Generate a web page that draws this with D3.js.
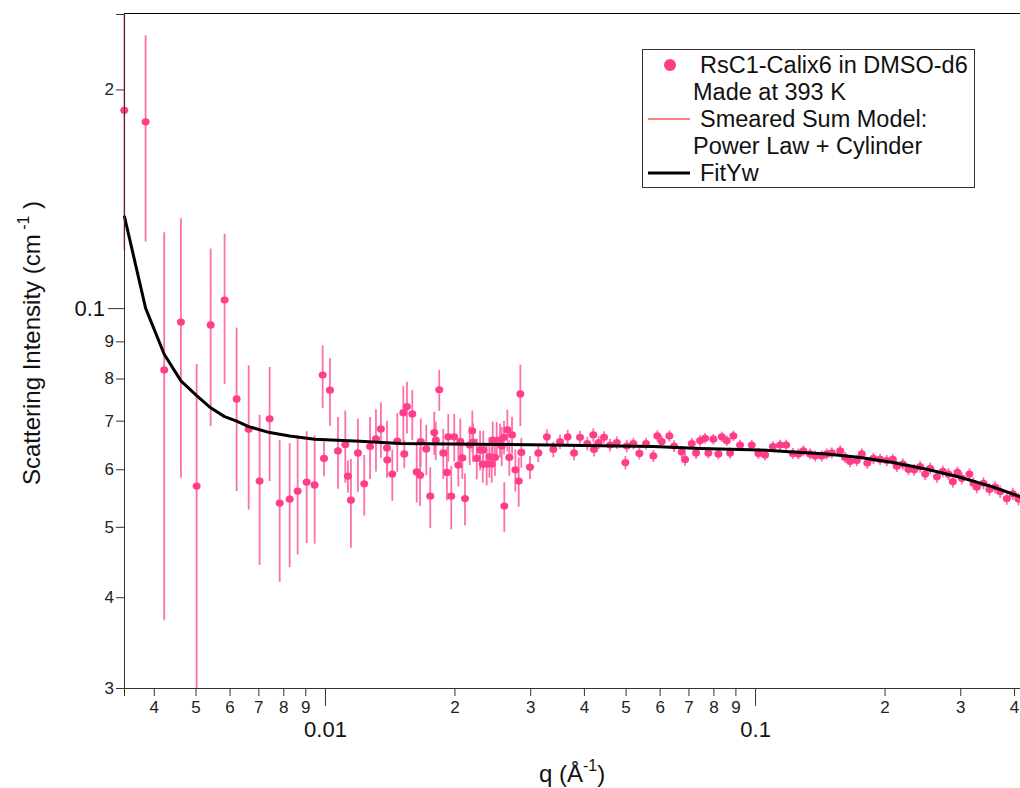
<!DOCTYPE html>
<html>
<head>
<meta charset="utf-8">
<script src="https://cdn.jsdelivr.net/npm/d3@7"></script>
<style>
  body { margin: 0; background: #fff; }
  svg { display: block; font-family: "Liberation Sans", Arial, sans-serif; }
</style>
</head>
<body>
<svg id="chart" width="1020" height="788"></svg>
<script>
// measured SANS data: q (1/A), intensity (1/cm), error
const qData = [0.003415, 0.003828, 0.004229, 0.004625, 0.005031, 0.005423, 0.005843, 0.006232, 0.006647, 0.007047,
  0.007437, 0.007847, 0.008278, 0.008639, 0.009067, 0.009463, 0.009878, 0.009947, 0.01027, 0.01072,
  0.01115, 0.01131, 0.01149, 0.01193, 0.01234, 0.01273, 0.01314, 0.01349, 0.01394, 0.01396,
  0.01434, 0.01473, 0.01521, 0.01529, 0.01551, 0.01596, 0.01634, 0.01664, 0.0167, 0.0172,
  0.01757, 0.01795, 0.0181, 0.01844, 0.01884, 0.01921, 0.01935, 0.01966, 0.01998, 0.02042,
  0.02064, 0.02086, 0.02116, 0.0217, 0.02201, 0.0221, 0.02254, 0.02294, 0.02327, 0.02334,
  0.02377, 0.02411, 0.02442, 0.02455, 0.02485, 0.02508, 0.02553, 0.02576, 0.02608, 0.02612,
  0.02655, 0.02683, 0.02722, 0.02771, 0.02822, 0.02846, 0.02861,
  0.02997, 0.03133, 0.0328, 0.03396, 0.0352, 0.03667, 0.03794, 0.03917, 0.04074, 0.04207,
  0.04222, 0.0433, 0.04455, 0.04601, 0.04769, 0.04994, 0.05031, 0.05212, 0.05382, 0.05578,
  0.05801, 0.05927, 0.06067, 0.0632, 0.06481, 0.06753, 0.06874, 0.07126, 0.07292, 0.0745,
  0.07651, 0.07788, 0.07998, 0.08216, 0.08368, 0.08594, 0.08748, 0.08903, 0.09229, 0.09824,
  0.1018, 0.1055, 0.11, 0.1143, 0.1181, 0.1224, 0.1261, 0.1295, 0.1342, 0.1379,
  0.1429, 0.1468, 0.1508, 0.1577, 0.1619, 0.1663, 0.1724, 0.1771, 0.1824, 0.1884,
  0.1953, 0.2024, 0.209, 0.2136, 0.2206, 0.2273, 0.2344, 0.242, 0.2486, 0.2553,
  0.2647, 0.2733, 0.2816, 0.2883, 0.2955, 0.3025, 0.3151, 0.3219, 0.3278, 0.3396,
  0.3507, 0.3615, 0.3714, 0.3849, 0.3975, 0.4096];

const iData = [0.1872, 0.1805, 0.0822, 0.0957, 0.0569, 0.0948, 0.1026, 0.075, 0.0681, 0.0578,
  0.0704, 0.0539, 0.0546, 0.056, 0.0576, 0.0571, 0.0809, 0.0621, 0.0771, 0.0636,
  0.0649, 0.0587, 0.0544, 0.0632, 0.0573, 0.0645, 0.0661, 0.0682, 0.0642, 0.0618,
  0.0591, 0.0656, 0.0718, 0.063, 0.0732, 0.0715, 0.0595, 0.0589, 0.0655, 0.064,
  0.0551, 0.0674, 0.0658, 0.0772, 0.0632, 0.0594, 0.0665, 0.0551, 0.0665, 0.0608,
  0.0655, 0.0622, 0.0547, 0.0648, 0.0678, 0.0654, 0.0621, 0.0638, 0.061, 0.0638,
  0.061, 0.0624, 0.061, 0.0658, 0.0623, 0.0657, 0.0658, 0.0646, 0.0664, 0.0534,
  0.068, 0.0623, 0.0669, 0.0599, 0.0578, 0.0762, 0.0633,
  0.0604, 0.0632, 0.0665, 0.0639, 0.0655, 0.0665, 0.0632, 0.0664, 0.0651, 0.0669,
  0.0639, 0.0653, 0.0664, 0.0648, 0.0653, 0.0613, 0.0646, 0.0651, 0.0631, 0.0651,
  0.0626, 0.0667, 0.0655, 0.0667, 0.0646, 0.0634, 0.0619, 0.0651, 0.0632, 0.0657,
  0.0662, 0.0632, 0.066, 0.063, 0.0665, 0.0657, 0.0632, 0.0667, 0.0648, 0.0648,
  0.0631, 0.0628, 0.0645, 0.0648, 0.0648, 0.0631, 0.063, 0.0636, 0.063, 0.0626,
  0.0626, 0.063, 0.0632, 0.0636, 0.0623, 0.0615, 0.0617, 0.063, 0.0612, 0.0621,
  0.0619, 0.0617, 0.0619, 0.0606, 0.061, 0.06, 0.0599, 0.0605, 0.0591, 0.0602,
  0.0586, 0.0596, 0.0591, 0.0577, 0.0594, 0.0583, 0.0591, 0.0574, 0.0567, 0.0574,
  0.0563, 0.0567, 0.0559, 0.0547, 0.0555, 0.0546];

const errData = [0.067, 0.057, 0.045, 0.0373, 0.0269, 0.026, 0.024, 0.019, 0.0153, 0.0135,
  0.0126, 0.0119, 0.0106, 0.0102, 0.0101, 0.0097, 0.008, 0.0034, 0.0082, 0.0072,
  0.0074, 0.003, 0.0076, 0.0073, 0.0055, 0.0063, 0.0065, 0.006, 0.0058, 0.003,
  0.0048, 0.0061, 0.0063, 0.0028, 0.006, 0.0057, 0.0055, 0.0055, 0.005, 0.0051,
  0.0053, 0.0046, 0.004, 0.005, 0.005, 0.005, 0.005, 0.0055, 0.005, 0.004,
  0.005, 0.004, 0.0045, 0.004, 0.0045, 0.004, 0.004, 0.004, 0.0035, 0.004,
  0.004, 0.004, 0.0035, 0.004, 0.0035, 0.004, 0.0035, 0.004, 0.0035, 0.0042,
  0.0045, 0.0035, 0.004, 0.004, 0.0045, 0.0074, 0.003,
  0.0022, 0.0018, 0.0016, 0.0016, 0.0015, 0.0015, 0.0015, 0.0014, 0.0014, 0.0014,
  0.0014, 0.0013, 0.0013, 0.0013, 0.0013, 0.0013, 0.0013, 0.0012, 0.0012, 0.0012,
  0.0012, 0.0012, 0.0012, 0.0012, 0.0012, 0.0012, 0.0012, 0.0012, 0.0012, 0.0012,
  0.0011, 0.0011, 0.0011, 0.0011, 0.0011, 0.0011, 0.0011, 0.0011, 0.0011, 0.0011,
  0.0011, 0.0011, 0.0011, 0.0011, 0.0011, 0.0011, 0.0011, 0.0011, 0.0011, 0.0011,
  0.0011, 0.0011, 0.0011, 0.0011, 0.0011, 0.0011, 0.0011, 0.0011, 0.0011, 0.0011,
  0.0011, 0.0011, 0.0011, 0.0011, 0.0011, 0.0011, 0.0011, 0.0011, 0.0011, 0.0011,
  0.0011, 0.0011, 0.0011, 0.0011, 0.0011, 0.0011, 0.0011, 0.0011, 0.0011, 0.0011,
  0.0011, 0.0011, 0.0011, 0.0011, 0.0011, 0.0011];

// fit curves
const fitQ = [0.003415, 0.003828, 0.004229, 0.004625, 0.005031, 0.005423, 0.005843, 0.006232, 0.006647, 0.007437,
  0.008278, 0.009463, 0.01206, 0.01494, 0.02553, 0.03337, 0.05801, 0.0745, 0.1027, 0.1226,
  0.1468, 0.1755, 0.2094, 0.2509, 0.2998, 0.3583, 0.4134];
const fitI = [0.134, 0.1, 0.0864, 0.0794, 0.0758, 0.0729, 0.0709, 0.0699, 0.0687, 0.0674,
  0.0667, 0.066, 0.0656, 0.0651, 0.0649, 0.0648, 0.0645, 0.0641, 0.0638, 0.0634,
  0.063, 0.0623, 0.0613, 0.06, 0.0585, 0.0567, 0.055];

const xMinor = [0.004, 0.005, 0.006, 0.007, 0.008, 0.009, 0.02, 0.03, 0.04, 0.05, 0.06, 0.07, 0.08, 0.09, 0.2, 0.3, 0.4];
const xMajor = [0.01, 0.1];
const yMinor = [0.03, 0.04, 0.05, 0.06, 0.07, 0.08, 0.09, 0.2];
const yMajor = [0.1];

const legendItems = [
  { kind: "dot", lines: ["RsC1-Calix6 in DMSO-d6", "Made at 393 K"] },
  { kind: "red", lines: ["Smeared Sum Model:", "Power Law + Cylinder"] },
  { kind: "black", lines: ["FitYw"] }
];

const pink = "#ff3d8a";
const pinkBar = "#ff70a8";

const margin = { top: 14, right: 0, bottom: 100, left: 124 };
const width = 1020, height = 788;

const svg = d3.select("#chart");

const x = d3.scaleLog().domain([0.00341, 0.413]).range([margin.left, width - margin.right]);
const y = d3.scaleLog().domain([0.03, 0.254]).range([height - margin.bottom, margin.top]);

// markers may poke out on the left like in Igor, bars are cut at top/bottom
svg.append("clipPath").attr("id", "plot-clip")
  .append("rect")
  .attr("x", margin.left - 6).attr("y", margin.top)
  .attr("width", width - margin.left - margin.right + 6)
  .attr("height", height - margin.bottom - margin.top);

const points = qData.map((q, i) => ({ q, v: iData[i], e: errData[i] }));
const plot = svg.append("g").attr("clip-path", "url(#plot-clip)");

plot.selectAll(".err")
  .data(points)
  .enter()
  .append("line")
  .attr("class", "err")
  .attr("x1", d => x(d.q)).attr("x2", d => x(d.q))
  .attr("y1", d => y(d.v + d.e))
  .attr("y2", d => y(Math.max(d.v - d.e, 0.001)))
  .attr("stroke", pinkBar)
  .attr("stroke-width", 1.8);

plot.selectAll(".dot")
  .data(points)
  .enter()
  .append("ellipse")
  .attr("class", "dot")
  .attr("cx", d => x(d.q))
  .attr("cy", d => y(d.v))
  .attr("rx", 4).attr("ry", 3.6)
  .attr("fill", pink);

const fit = fitQ.map((q, i) => [q, fitI[i]]);
const line = d3.line().x(d => x(d[0])).y(d => y(d[1]));

plot.append("path").datum(fit)
  .attr("d", line).attr("fill", "none")
  .attr("stroke", "#ff7f7f").attr("stroke-width", 1);

plot.append("path").datum(fit)
  .attr("d", line).attr("fill", "none")
  .attr("stroke", "#000").attr("stroke-width", 3)
  .attr("stroke-linejoin", "round");

// frame
svg.append("line")
  .attr("x1", margin.left).attr("x2", width)
  .attr("y1", margin.top - 0.5).attr("y2", margin.top - 0.5)
  .attr("stroke", "#000").attr("stroke-width", 1);

const digit = d => Math.round(d / Math.pow(10, Math.floor(Math.log10(d) + 1e-9)));

// x axis
const gxMinor = svg.append("g")
  .attr("transform", `translate(0,${height - margin.bottom})`)
  .call(d3.axisBottom(x).tickValues(xMinor).tickSize(8).tickFormat(digit));
gxMinor.selectAll("text").attr("font-size", 17).attr("fill", "#222").attr("y", 11).attr("dy", "0.85em");

const gxMajor = svg.append("g")
  .attr("transform", `translate(0,${height - margin.bottom})`)
  .call(d3.axisBottom(x).tickValues(xMajor).tickSize(18).tickFormat(d => d === 0.01 ? "0.01" : "0.1"));
gxMajor.select(".domain").remove();
gxMajor.selectAll("text").attr("font-size", 22).attr("fill", "#111").attr("y", 30).attr("dy", "0.85em");

// y axis
const gyMinor = svg.append("g")
  .attr("transform", `translate(${margin.left},0)`)
  .call(d3.axisLeft(y).tickValues(yMinor).tickSize(8).tickFormat(digit));
gyMinor.selectAll("text").attr("font-size", 17).attr("fill", "#222").attr("x", -10);

const gyMajor = svg.append("g")
  .attr("transform", `translate(${margin.left},0)`)
  .call(d3.axisLeft(y).tickValues(yMajor).tickSize(16).tickFormat(() => "0.1"));
gyMajor.select(".domain").remove();
gyMajor.selectAll("text").attr("font-size", 22).attr("fill", "#111").attr("x", -19);

svg.selectAll(".domain").attr("stroke", "#333");
svg.selectAll(".tick line").attr("stroke", "#333");

// axis titles
const yTitle = svg.append("text")
  .attr("transform", "translate(40,343) rotate(-90)")
  .attr("text-anchor", "middle")
  .attr("font-size", 24).attr("fill", "#111");
yTitle.append("tspan").text("Scattering Intensity (cm");
yTitle.append("tspan").attr("font-size", 16).attr("dy", -11).text(" -1");
yTitle.append("tspan").attr("dy", 11).text(" )");

const xTitle = svg.append("text")
  .attr("x", 572).attr("y", 782)
  .attr("text-anchor", "middle")
  .attr("font-size", 24).attr("fill", "#111");
xTitle.append("tspan").text("q (Å");
xTitle.append("tspan").attr("font-size", 16).attr("dy", -11).text("-1");
xTitle.append("tspan").attr("dy", 11).text(")");

// legend
const legend = svg.append("g");
legend.append("rect")
  .attr("x", 642.5).attr("y", 49.5)
  .attr("width", 332).attr("height", 138)
  .attr("fill", "#fff").attr("stroke", "#333").attr("stroke-width", 1);

const rowH = 27;
let row = 0;
legendItems.forEach(item => {
  const cy = 65 + row * rowH;
  if (item.kind === "dot") {
    legend.append("circle").attr("cx", 670).attr("cy", cy).attr("r", 6).attr("fill", pink);
  } else {
    legend.append("line")
      .attr("x1", 648).attr("x2", 690).attr("y1", cy).attr("y2", cy)
      .attr("stroke", item.kind === "red" ? "#ff7f7f" : "#000")
      .attr("stroke-width", item.kind === "red" ? 2 : 3);
  }
  item.lines.forEach((t, j) => {
    legend.append("text")
      .attr("x", j === 0 ? 700 : 693)
      .attr("y", cy + j * rowH)
      .attr("dy", "0.36em")
      .attr("font-size", 23.5).attr("fill", "#111")
      .text(t);
  });
  row += item.lines.length;
});
</script>
</body>
</html>
